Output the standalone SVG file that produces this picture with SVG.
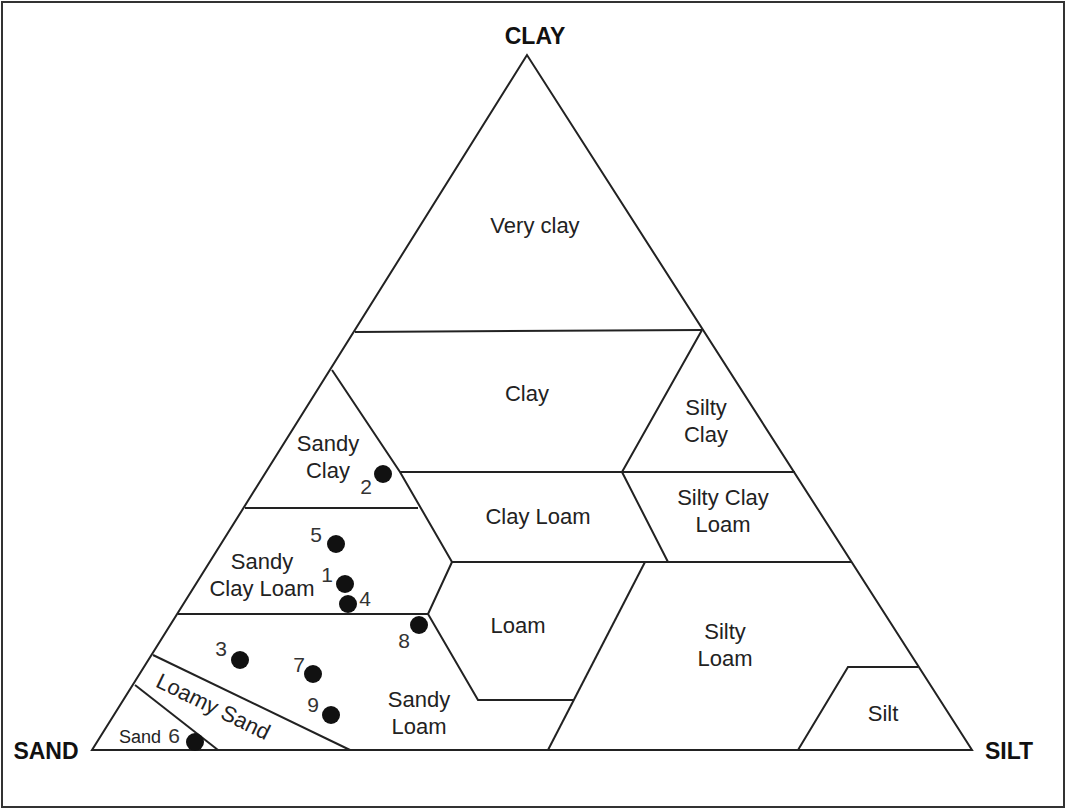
<svg xmlns="http://www.w3.org/2000/svg" width="1084" height="810" viewBox="0 0 1084 810">
<style>
.l{stroke:#222;stroke-width:2;fill:none}
.t{font-family:"Liberation Sans",Arial,sans-serif;font-size:22px;fill:#222;text-anchor:middle}
.n{font-family:"Liberation Sans",Arial,sans-serif;font-size:21px;fill:#333;text-anchor:middle}
.v{font-family:"Liberation Sans",Arial,sans-serif;font-size:23px;font-weight:bold;fill:#111;text-anchor:middle}
</style>
<rect x="0" y="0" width="1084" height="810" fill="#fff"/>
<rect x="2" y="2" width="1062" height="805" fill="none" stroke="#333" stroke-width="2"/>
<g id="connectors">
<polygon class="l" points="527,55 92,750 972,750"/>
<line class="l" x1="355" y1="332" x2="702" y2="330"/>
<polyline class="l" points="332,370 400,472 452,562"/>
<line class="l" x1="400" y1="472" x2="795" y2="472"/>
<polyline class="l" points="702,330 622,472 668,562"/>
<line class="l" x1="452" y1="562" x2="852" y2="562"/>
<line class="l" x1="245" y1="508" x2="418" y2="508"/>
<line class="l" x1="178" y1="614" x2="428" y2="614"/>
<polyline class="l" points="452,562 428,614 478,700 574,700"/>
<line class="l" x1="645" y1="562" x2="548" y2="750"/>
<line class="l" x1="153" y1="655" x2="350" y2="750"/>
<line class="l" x1="135" y1="685" x2="218" y2="750"/>
<polyline class="l" points="798,750 848,667 918,667"/>
</g>
<g id="labels">
<text class="v" x="535" y="44">CLAY</text>
<text class="v" x="46" y="759">SAND</text>
<text class="v" x="1009" y="759">SILT</text>
<text class="t" x="535" y="233">Very clay</text>
<text class="t" x="527" y="401">Clay</text>
<text class="t" x="706" y="415">Silty</text><text class="t" x="706" y="442">Clay</text>
<text class="t" x="328" y="451">Sandy</text><text class="t" x="328" y="478">Clay</text>
<text class="t" x="538" y="524">Clay Loam</text>
<text class="t" x="723" y="505">Silty Clay</text><text class="t" x="723" y="532">Loam</text>
<text class="t" x="262" y="569">Sandy</text><text class="t" x="262" y="596">Clay Loam</text>
<text class="t" x="518" y="633">Loam</text>
<text class="t" x="725" y="639">Silty</text><text class="t" x="725" y="666">Loam</text>
<text class="t" x="419" y="707">Sandy</text><text class="t" x="419" y="734">Loam</text>
<text class="t" x="883" y="721">Silt</text>
<text class="t" x="213" y="714" transform="rotate(26 213 707)">Loamy Sand</text>
<text class="t" x="140" y="743" style="font-size:18px">Sand</text>
</g>
<g id="points" fill="#111">
<circle cx="383" cy="474" r="9"/><circle cx="336" cy="544" r="9"/><circle cx="345" cy="584" r="9"/>
<circle cx="348" cy="604" r="9"/><circle cx="419" cy="625" r="9"/><circle cx="240" cy="660" r="9"/>
<circle cx="313" cy="674" r="9"/><circle cx="331" cy="715" r="9"/><circle cx="195" cy="742" r="9"/>
<text class="n" x="366" y="494">2</text><text class="n" x="316" y="542">5</text><text class="n" x="327" y="582">1</text>
<text class="n" x="365" y="606">4</text><text class="n" x="404" y="648">8</text><text class="n" x="221" y="656">3</text>
<text class="n" x="299" y="672">7</text><text class="n" x="313" y="712">9</text><text class="n" x="174" y="743">6</text>
</g>
</svg>
